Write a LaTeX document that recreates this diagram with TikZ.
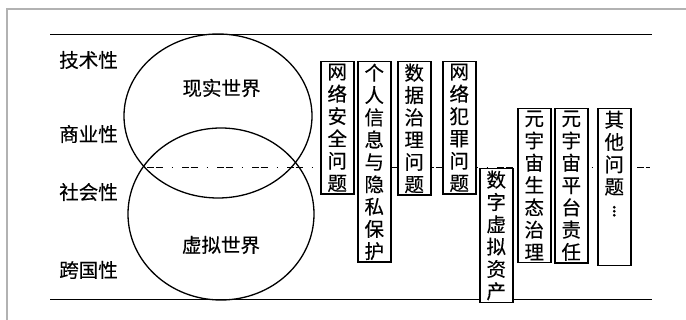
\documentclass[tikz,border=0pt]{standalone}
\usepackage{fontspec}
\setmainfont{Noto Sans CJK SC}[FakeBold=0.3]
\begin{document}
\begin{tikzpicture}[x=1pt,y=-1pt,
  cjk/.style={font=\fontsize{19.5}{22.3}\selectfont},
  issue/.style={cjk,draw,line width=1.5pt,fill=white,minimum width=33pt,
    inner xsep=0pt,inner ysep=2pt,align=center,anchor=north west},
  label/.style={cjk,inner sep=0pt},
  rule/.style={line width=1pt},
  world/.style={line width=1.3pt},
  divider/.style={line width=0.9pt,dash pattern=on 7pt off 1.5pt on 7pt off 9pt on 1.5pt off 9pt}]
\useasboundingbox (0,0) rectangle (686,320);
% outer frame
\draw[line width=1.2pt,black!30] (7,330) -- (7,9) -- (700,9);
% horizontal rules
\draw[rule] (50,35) -- (652,35);
\draw[rule] (50,300) -- (652,300);
% dash-dot divider
\coordinate (dl) at (147,167);
\coordinate (dr) at (650,167);
\draw[divider] (dl) -- (dr);
% ellipses
\draw[world] (218,116) ellipse [x radius=94, y radius=82];
\draw[world] (221,214) ellipse [x radius=93, y radius=86];
% left labels
\node[label] (l1) at (88.5,60) {技术性};
\node[label] (l2) at (88.5,134) {商业性};
\node[label] (l3) at (88.5,192) {社会性};
\node[label] (l4) at (88.5,270) {跨国性};
\node[label] (w1) at (221.5,88) {现实世界};
\node[label] (w2) at (221,245) {虚拟世界};
% issue boxes
\node[issue] (b1) at (320,61) {网\\络\\安\\全\\问\\题};
\node[issue] (b2) at (357,61) {个\\人\\信\\息\\与\\隐\\私\\保\\护};
\node[issue] (b3) at (397,61) {数\\据\\治\\理\\问\\题};
\node[issue] (b4) at (442,61) {网\\络\\犯\\罪\\问\\题};
\node[issue] (b5) at (479,168) {数\\字\\虚\\拟\\资\\产};
\node[issue] (b6) at (517,108) {元\\宇\\宙\\生\\态\\治\\理};
\node[issue] (b7) at (554,108) {元\\宇\\宙\\平\\台\\责\\任};
\node[issue,text depth=47pt] (b8) at (597,108) {其\\他\\问\\题\\$\vdots$};
\end{tikzpicture}
\end{document}
